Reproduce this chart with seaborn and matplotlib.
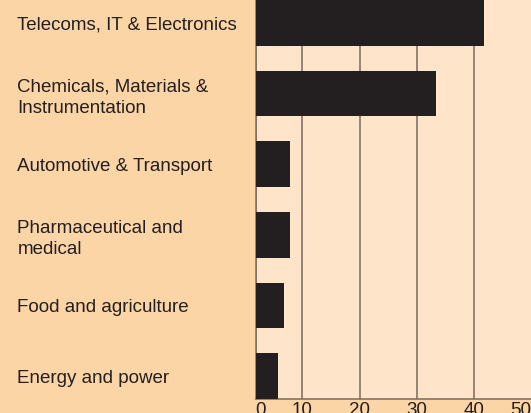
import matplotlib
matplotlib.use('Agg')
import matplotlib.pyplot as plt
import seaborn as sns
import pandas as pd

sectors = ['Telecoms, IT & Electronics',
           'Chemicals, Materials &\nInstrumentation',
           'Automotive & Transport',
           'Pharmaceutical and\nmedical',
           'Food and agriculture',
           'Energy and power']
shares = [41.7, 33.3, 7.9, 7.9, 6.8, 5.7]
tick_values = [10, 20, 30, 40, 50]
tick_labels = ['10', '20', '30', '40', '50']

PANEL = '#FCD5A7'
PLOT_BG = '#FEE4C8'
BAR = '#231F20'
GRID = '#7A6B60'
FS = 13.5

sns.set_theme(style='white')
plt.rcParams['font.family'] = ['Liberation Sans', 'DejaVu Sans']

df = pd.DataFrame({'sector': sectors, 'share': shares})

fig = plt.figure(figsize=(5.31, 4.13), dpi=100, facecolor=PANEL)
ax = fig.add_axes([255.5 / 531, 14 / 413, 1 - 255.5 / 531, 399 / 413])
ax.set_facecolor(PLOT_BG)

sns.barplot(data=df, y='sector', x='share', orient='h', color=BAR,
            saturation=1, width=0.647, linewidth=0, edgecolor=BAR,
            ax=ax, zorder=3)

x0 = 1.8
ax.set_xlim(x0, 50)
ax.set_ylim(len(sectors) - 1 + 0.3235, -0.3235)
ax.set_xticks([x0] + tick_values)
ax.set_xticklabels(['0'] + tick_labels, fontsize=FS, color=BAR)
xl = ax.get_xticklabels()
xl[0].set_horizontalalignment('left')
xl[-1].set_horizontalalignment('right')
ax.tick_params(axis='x', length=0, pad=2.5)
ax.xaxis.grid(True, color=GRID, linewidth=1.1, zorder=1)
ax.get_xgridlines()[-1].set_visible(False)
ax.set_axisbelow(True)

ax.tick_params(axis='y', length=0, pad=171.5)
for lab in ax.get_yticklabels():
    lab.set_horizontalalignment('left')
    lab.set_fontsize(FS)
    lab.set_color(BAR)
    lab.set_linespacing(1.35)

ax.set_xlabel('')
ax.set_ylabel('')
for side in ['top', 'right']:
    ax.spines[side].set_visible(False)
for side in ['left', 'bottom']:
    ax.spines[side].set_color(GRID)
    ax.spines[side].set_linewidth(1.1)

fig.savefig('out.png', dpi=100, facecolor=PANEL)
